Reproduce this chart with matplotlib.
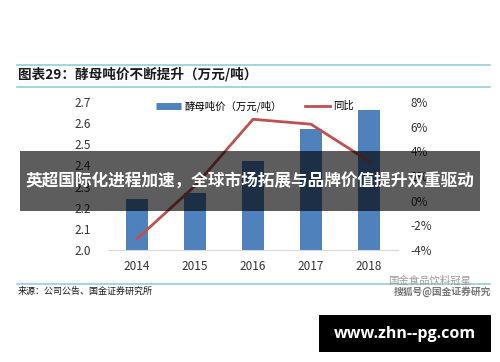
import matplotlib
matplotlib.use("Agg")
import matplotlib.pyplot as plt
from matplotlib.lines import Line2D
from matplotlib.patches import Rectangle

plt.rcParams['font.family'] = ['Noto Sans CJK SC', 'DejaVu Sans']

years = ["2014", "2015", "2016", "2017", "2018"]
price = [2.24, 2.27, 2.42, 2.57, 2.66]
yoy = [-3.1, 1.2, 6.6, 6.2, 3.2]
left_ticks = [2.0, 2.1, 2.2, 2.3, 2.4, 2.5, 2.6, 2.7]
right_ticks = [-4, -2, 0, 2, 4, 6, 8]

BLUE = "#4F81BD"
RED = "#C0504D"
TEAL = "#92CDDC"

fig = plt.figure(figsize=(5.0, 3.62), dpi=100)
fig.patch.set_facecolor("white")

ax = fig.add_axes([0.216, 0.3094, 0.58, 0.4088])
x = list(range(len(years)))
ax.bar(x, price, width=0.37, color=BLUE, zorder=2)
ax.set_ylim(2.0, 2.7)
ax.set_xlim(-0.5, len(years) - 0.5)
ax.set_yticks(left_ticks)
ax.set_yticklabels([f"{v:.1f}" for v in left_ticks], fontsize=8.5, color="#333333")
ax.set_xticks(x)
ax.set_xticklabels(years, fontsize=8.5, color="#333333")
ax.tick_params(axis="both", length=0)
ax.tick_params(axis="y", pad=12)
ax.tick_params(axis="x", pad=7)
for s in ["top", "left", "right"]:
    ax.spines[s].set_visible(False)
ax.spines["bottom"].set_color("#D9D9D9")

ax2 = ax.twinx()
ax2.plot(x, yoy, color=RED, lw=2, zorder=3)
ax2.set_ylim(-4, 8)
ax2.set_yticks(right_ticks)
ax2.set_yticklabels([f"{v}%" for v in right_ticks], fontsize=8.5, color="#333333")
ax2.tick_params(axis="y", length=0, pad=9)
for s in ["top", "left", "right", "bottom"]:
    ax2.spines[s].set_visible(False)

handles = [Line2D([], [], color=BLUE, lw=5, solid_capstyle="butt"),
           Line2D([], [], color=RED, lw=2)]
fig.legend(handles, ["酵母吨价（万元/吨）", "同比"], loc="center",
           bbox_to_anchor=(0.51, 1 - 106 / 362), ncol=2, frameon=False,
           fontsize=7.5, handlelength=2.4, handletextpad=0.3, columnspacing=2.2)

# header / footer decorations
for py in (65, 87, 284):
    fig.add_artist(Line2D([0.034, 0.98], [1 - py / 362] * 2, color=TEAL, lw=1.2))
fig.text(0.036, 1 - 74 / 362, "图表29：酵母吨价不断提升（万元/吨）", fontsize=9.8,
         fontweight="bold", color="#1a1a1a", va="center", ha="left")
fig.text(0.036, 1 - 291 / 362, "来源：公司公告、国金证券研究所", fontsize=6.5,
         color="#1a1a1a", va="center", ha="left")
fig.text(0.86, 1 - 281 / 362, "国金食品饮料冠星", fontsize=7.5, color="#9a9a9a",
         va="center", ha="center")
fig.text(0.885, 1 - 292 / 362, "搜狐号@国金证券研究", fontsize=7, color="#777777",
         va="center", ha="center", fontweight="bold")

# overlay banner
fig.add_artist(Rectangle((0.04, 1 - 211 / 362), 0.92, 60 / 362,
                         transform=fig.transFigure, facecolor="black",
                         alpha=0.635, edgecolor="none", zorder=10))
fig.text(0.5, 1 - 182 / 362, "英超国际化进程加速，全球市场拓展与品牌价值提升双重驱动",
         fontsize=12.0, fontweight="bold", color="white", ha="center", va="center",
         zorder=11)

# black url box
fig.add_artist(Rectangle((0.638, 1 - 352 / 362), 0.344, 37 / 362,
                         transform=fig.transFigure, facecolor="black",
                         edgecolor="none", zorder=10))
fig.text(0.81, 1 - 333.5 / 362, "www.zhn--pg.com", fontsize=11.5, fontweight="bold",
         color="white", ha="center", va="center", zorder=11,
         family=["Open Sans", "DejaVu Sans"])

fig.savefig("out.png", dpi=100, facecolor="white")
